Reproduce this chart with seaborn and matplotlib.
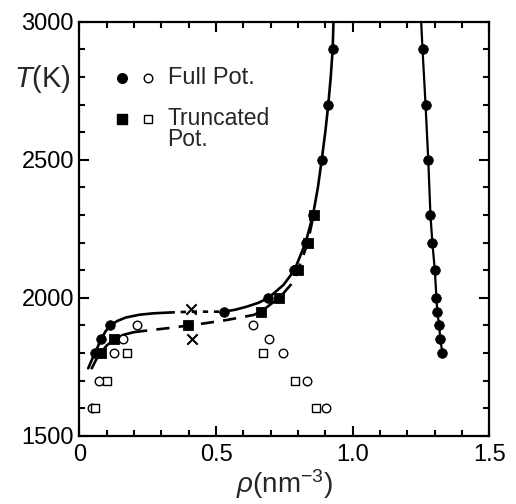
import matplotlib

matplotlib.use("Agg")
import matplotlib.pyplot as plt
import pandas as pd
import seaborn as sns
from matplotlib.ticker import MultipleLocator

# --- data --------------------------------------------------------------
# filled circles: full potential, coexistence points
FULL_RHO = [0.057, 0.079, 0.112, 0.529, 0.692, 0.787, 0.828, 0.855, 0.887, 0.911, 0.927,
            1.256, 1.267, 1.277, 1.285, 1.292, 1.301, 1.307, 1.310, 1.317, 1.321, 1.329]
FULL_T = [1800, 1850, 1900, 1950, 2000, 2100, 2200, 2300, 2500, 2700, 2900,
          2900, 2700, 2500, 2300, 2200, 2100, 2000, 1950, 1900, 1850, 1800]

# filled squares: truncated potential
TRUNC_RHO = [0.078, 0.128, 0.399, 0.665, 0.732, 0.800, 0.836, 0.857]
TRUNC_T = [1800, 1850, 1900, 1950, 2000, 2100, 2200, 2300]

# open circles / squares
FULL_OPEN_RHO = [0.045, 0.073, 0.126, 0.160, 0.212, 0.634, 0.695, 0.744, 0.834, 0.903]
FULL_OPEN_T = [1600, 1700, 1800, 1850, 1900, 1900, 1850, 1800, 1700, 1600]
TRUNC_OPEN_RHO = [0.057, 0.100, 0.173, 0.671, 0.788, 0.866]
TRUNC_OPEN_T = [1600, 1700, 1800, 1800, 1700, 1600]

# crosses
CROSS_RHO = [0.408, 0.411]
CROSS_T = [1958, 1850]

# fitted curves (traced)
FULL_LOW_RHO = [0.032, 0.045, 0.057, 0.068, 0.079, 0.095, 0.112, 0.140, 0.170, 0.220, 0.270, 0.330]
FULL_LOW_T = [1745, 1775, 1800, 1825, 1850, 1878, 1900, 1917, 1929, 1939, 1944, 1947]
FULL_GAP_RHO = [0.330, 0.408, 0.529]
FULL_GAP_T = [1947, 1950, 1950]
FULL_HIGH_RHO = [0.529, 0.570, 0.612, 0.655, 0.692, 0.747, 0.787, 0.828, 0.855, 0.873,
                 0.887, 0.900, 0.911, 0.920, 0.927, 0.930]
FULL_HIGH_T = [1950, 1957, 1968, 1982, 2000, 2047, 2100, 2200, 2300, 2400,
               2500, 2600, 2700, 2800, 2900, 3000]
LIQ_RHO = [1.251, 1.256, 1.267, 1.277, 1.285, 1.292, 1.301, 1.307, 1.310, 1.317, 1.321, 1.329]
LIQ_T = [3000, 2900, 2700, 2500, 2300, 2200, 2100, 2000, 1950, 1900, 1850, 1800]

TR_LOW_RHO = [0.045, 0.062, 0.078, 0.100, 0.128, 0.160, 0.200]
TR_LOW_T = [1745, 1778, 1800, 1828, 1850, 1866, 1876]
TR_DASH_RHO = [0.200, 0.250, 0.330, 0.399, 0.460, 0.540, 0.637, 0.665, 0.704, 0.732,
               0.783, 0.800, 0.836, 0.857]
TR_DASH_T = [1876, 1882, 1891, 1900, 1908, 1920, 1938, 1950, 1980, 2000,
             2058, 2100, 2200, 2300]

XTICKS = [0, 0.5, 1.0, 1.5]
XTICK_LABELS = ["0", "0.5", "1.0", "1.5"]
YTICKS = [1500, 2000, 2500, 3000]


def curve(x, y):
    return pd.DataFrame({"rho": x, "T": y})


sns.set_theme(style="ticks")
plt.rcParams.update({
    "font.family": ["Liberation Sans", "DejaVu Sans"],
    "mathtext.fontset": "custom",
    "mathtext.rm": "Liberation Sans",
    "mathtext.it": "Liberation Sans:italic",
})

fig = plt.figure(figsize=(5.16, 5.04), dpi=100)
ax = fig.add_axes([0.154, 0.135, 0.794, 0.822])

lw = 1.9
kw = dict(x="rho", y="T", sort=False, estimator=None, color="black", ax=ax, legend=False)
sns.lineplot(data=curve(FULL_LOW_RHO, FULL_LOW_T), lw=lw, **kw)
sns.lineplot(data=curve(FULL_GAP_RHO, FULL_GAP_T), lw=lw, **kw).lines[-1].set_dashes((2, 2.2))
sns.lineplot(data=curve(FULL_HIGH_RHO, FULL_HIGH_T), lw=lw, **kw)
sns.lineplot(data=curve(LIQ_RHO, LIQ_T), lw=1.6, **kw)
sns.lineplot(data=curve(TR_LOW_RHO, TR_LOW_T), lw=lw, **kw)
sns.lineplot(data=curve(TR_DASH_RHO, TR_DASH_T), lw=lw, **kw).lines[-1].set_dashes((5, 3.5))

sk = dict(x="rho", y="T", ax=ax, legend=False, zorder=5)
sns.scatterplot(data=curve(FULL_OPEN_RHO, FULL_OPEN_T), marker="o", s=38,
                facecolor="white", edgecolor="black", linewidth=1.0, **sk)
sns.scatterplot(data=curve(TRUNC_OPEN_RHO, TRUNC_OPEN_T), marker="s", s=40,
                facecolor="white", edgecolor="black", linewidth=1.0, **sk)
sns.scatterplot(data=curve(FULL_RHO, FULL_T), marker="o", s=48,
                color="black", edgecolor="black", **sk)
sns.scatterplot(data=curve(TRUNC_RHO, TRUNC_T), marker="s", s=52,
                color="black", edgecolor="black", **sk)
sns.scatterplot(data=curve(CROSS_RHO, CROSS_T), marker="x", s=55,
                color="black", linewidth=1.5, **sk)

ax.set_xlim(0, 1.5)
ax.set_ylim(1500, 3000)
ax.set_xticks(XTICKS)
ax.set_xticklabels(XTICK_LABELS)
ax.set_yticks(YTICKS)
ax.xaxis.set_minor_locator(MultipleLocator(0.1))
ax.yaxis.set_minor_locator(MultipleLocator(100))
ax.tick_params(which="both", direction="in", top=True, right=True, width=1.5,
               labelsize=17, colors="black")
ax.tick_params(axis="x", pad=6)
ax.tick_params(axis="y", pad=4)
ax.tick_params(which="major", length=7.5)
ax.tick_params(which="minor", length=4.5)
for sp in ax.spines.values():
    sp.set_linewidth(1.6)
    sp.set_color("black")

ax.set_xlabel(r"$\rho$(nm$^{-3}$)", fontsize=20, labelpad=1)
ax.set_ylabel("")
ax.text(-0.02, 0.862, r"$T$(K)", transform=ax.transAxes, ha="right", va="center", fontsize=21)

# legend keys
leg_y = [0.865, 0.765]
ax.scatter([0.103], [leg_y[0]], s=48, color="black", marker="o", transform=ax.transAxes)
ax.scatter([0.167], [leg_y[0]], s=38, facecolor="white", edgecolor="black", lw=1.0,
           marker="o", transform=ax.transAxes)
ax.scatter([0.103], [leg_y[1]], s=52, color="black", marker="s", transform=ax.transAxes)
ax.scatter([0.167], [leg_y[1]], s=40, facecolor="white", edgecolor="black", lw=1.0,
           marker="s", transform=ax.transAxes)
ax.text(0.215, leg_y[0], "Full Pot.", transform=ax.transAxes, va="center", fontsize=17)
ax.text(0.215, leg_y[1] + 0.03, "Truncated\nPot.", transform=ax.transAxes, va="top",
        fontsize=16.5, linespacing=0.9)

fig.savefig("out.png", dpi=100)
